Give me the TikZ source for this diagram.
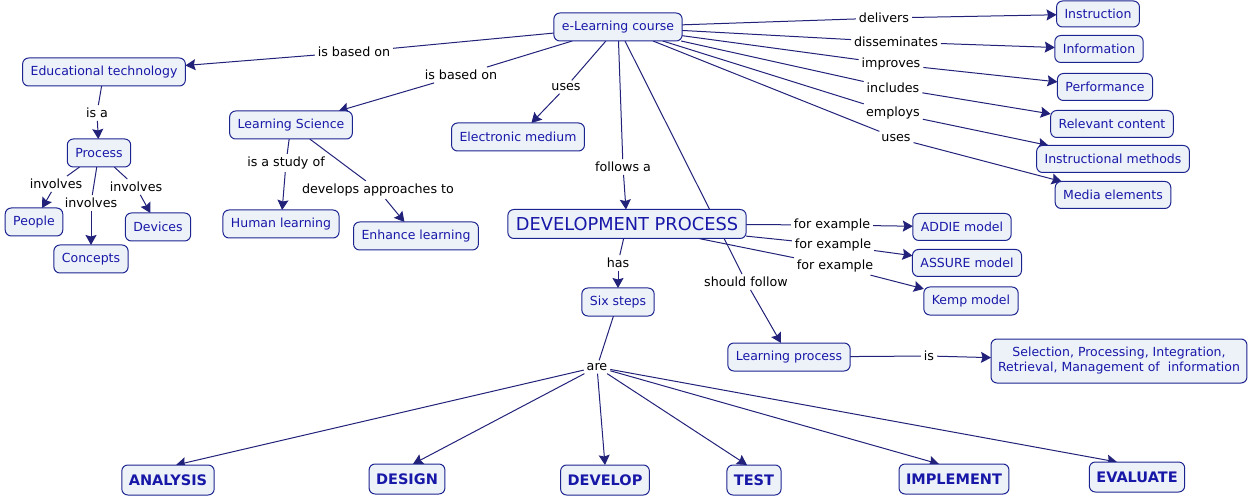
\documentclass[tikz,border=0pt]{standalone}
\usepackage{fontspec}
\setmainfont{DejaVu Sans}
\usetikzlibrary{arrows.meta}
\definecolor{nodefill}{HTML}{EDF2F9}
\definecolor{nodeborder}{HTML}{1C2490}
\definecolor{nodetext}{HTML}{1818A8}
\definecolor{linkcol}{HTML}{22227A}
\pgfdeclarelayer{bg}
\pgfsetlayers{bg,main}
\tikzset{
 concept/.style={draw=nodeborder, fill=nodefill, text=nodetext, rounded corners=6pt, line width=1pt, inner xsep=8pt, minimum height=28pt, font=\fontsize{12.5}{15}\selectfont, outer sep=0pt, align=center},
 bigconcept/.style={concept, font=\fontsize{17.8}{20}\selectfont, minimum height=29pt},
 stepconcept/.style={concept, font=\bfseries\fontsize{14.5}{17}\selectfont, minimum height=30pt, inner xsep=7pt},
 linklabel/.style={text=black, font=\fontsize{12.7}{14}\selectfont, inner sep=3pt, outer sep=0pt},
 link/.style={draw=linkcol, line width=1pt},
 arrowlink/.style={link, -{Stealth[length=10pt,width=11pt,inset=1.5pt]}}
}
\begin{document}
\begin{tikzpicture}[x=1pt,y=-1pt]
\useasboundingbox (0,0) rectangle (1251,497);
% concepts
\node[concept] (elc) at (618,27) {e-Learning course};
\node[concept] (edt) at (104,72) {Educational technology};
\node[concept] (ls) at (291,125) {Learning Science};
\node[concept] (em) at (518,137) {Electronic medium};
\node[concept] (proc) at (99,153) {Process};
\node[concept] (people) at (34,222) {People};
\node[concept] (concepts) at (91,259) {Concepts};
\node[concept] (devices) at (158,227) {Devices};
\node[concept] (hl) at (281,224) {Human learning};
\node[concept] (enh) at (416,236) {Enhance learning};
\node[concept, minimum height=26pt] (instr) at (1098,14) {Instruction};
\node[concept, minimum height=27pt] (info) at (1099,49) {Information};
\node[concept, minimum height=27pt] (perf) at (1105,87) {Performance};
\node[concept, minimum height=27pt] (rel) at (1112,124) {Relevant content};
\node[concept, minimum height=27pt] (imeth) at (1113,159) {Instructional methods};
\node[concept, minimum height=27pt] (media) at (1113,195) {Media elements};
\node[bigconcept] (dp) at (627,224) {DEVELOPMENT PROCESS};
\node[concept, minimum height=27pt] (addie) at (962,227) {ADDIE model};
\node[concept, minimum height=27pt] (assure) at (967,263) {ASSURE model};
\node[concept] (kemp) at (971,301) {Kemp model};
\node[concept] (six) at (618,302) {Six steps};
\node[concept] (lp) at (789,357) {Learning process};
\node[concept, minimum height=44pt, inner xsep=7pt] (sel) at (1119,361) {Selection, Processing, Integration,\\Retrieval, Management of~ information};
\node[stepconcept] (analysis) at (168,480) {ANALYSIS};
\node[stepconcept] (design) at (407,479) {DESIGN};
\node[stepconcept] (develop) at (605,480) {DEVELOP};
\node[stepconcept] (test) at (754,480) {TEST};
\node[stepconcept] (impl) at (954,479) {IMPLEMENT};
\node[stepconcept] (eval) at (1137,477) {EVALUATE};
% link labels
\node[linklabel] (l1) at (354,52) {is based on};
\node[linklabel] (l2) at (461,75) {is based on};
\node[linklabel] (l3) at (566,87) {uses};
\node[linklabel] (l4) at (623,167) {follows a};
\node[linklabel] (l5) at (884,18) {delivers};
\node[linklabel] (l6) at (896,42) {disseminates};
\node[linklabel] (l7) at (891,64) {improves};
\node[linklabel] (l8) at (893,88) {includes};
\node[linklabel] (l9) at (893,113) {employs};
\node[linklabel] (l10) at (896,138) {uses};
\node[linklabel] (l11) at (746,282) {should follow};
\node[linklabel] (l12) at (97,113) {is a};
\node[linklabel] (l13) at (56,184) {involves};
\node[linklabel] (l14) at (91,203) {involves};
\node[linklabel] (l15) at (136,187) {involves};
\node[linklabel] (l16) at (286,163) {is a study of};
\node[linklabel] (l17) at (378,190) {develops approaches to};
\node[linklabel] (l18) at (832,225) {for example};
\node[linklabel] (l19) at (833,245) {for example};
\node[linklabel] (l20) at (835,266) {for example};
\node[linklabel] (l21) at (618,263) {has};
\node[linklabel] (l22) at (929,356) {is};
\node[linklabel] (l23) at (597,367) {are};
% connectors
\begin{pgfonlayer}{bg}
\draw[link] (elc) -- (l1); \draw[arrowlink] (l1) -- (edt);
\draw[link] (elc) -- (l2); \draw[arrowlink] (l2) -- (ls);
\draw[link] (elc) -- (l3); \draw[arrowlink] (l3) -- (em);
\draw[link] (elc) -- (l4); \draw[arrowlink] (l4) -- (dp);
\draw[link] (elc) -- (l5); \draw[arrowlink] (l5) -- (instr);
\draw[link] (elc) -- (l6); \draw[arrowlink] (l6) -- (info);
\draw[link] (elc) -- (l7); \draw[arrowlink] (l7) -- (perf);
\draw[link] (elc) -- (l8); \draw[arrowlink] (l8) -- (rel);
\draw[link] (elc) -- (l9); \draw[arrowlink] (l9) -- (imeth);
\draw[link] (elc) -- (l10); \draw[arrowlink] (l10) -- (media);
\draw[link] (elc) -- (l11); \draw[arrowlink] (l11) -- (lp);
\draw[link] (edt) -- (l12); \draw[arrowlink] (l12) -- (proc);
\draw[link] (proc) -- (l13); \draw[arrowlink] (l13) -- (people);
\draw[link] (proc) -- (l14); \draw[arrowlink] (l14) -- (concepts);
\draw[link] (proc) -- (l15); \draw[arrowlink] (l15) -- (devices);
\draw[link] (ls) -- (l16); \draw[arrowlink] (l16) -- (hl);
\draw[link] (ls) -- (l17); \draw[arrowlink] (l17) -- (enh);
\draw[link] (dp) -- (l18); \draw[arrowlink] (l18) -- (addie);
\draw[link] (dp) -- (l19); \draw[arrowlink] (l19) -- (assure);
\draw[link] (dp) -- (l20); \draw[arrowlink] (l20) -- (kemp);
\draw[link] (dp) -- (l21); \draw[arrowlink] (l21) -- (six);
\draw[link] (lp) -- (l22); \draw[arrowlink] (l22) -- (sel);
\draw[link] (six) -- (l23);
\draw[arrowlink] (l23) -- ([xshift=8pt]analysis.north);
\draw[arrowlink] (l23) -- ([xshift=6pt]design.north);
\draw[arrowlink] (l23) -- (develop.north);
\draw[arrowlink] (l23) -- ([xshift=-7pt]test.north);
\draw[arrowlink] (l23) -- ([xshift=-15pt]impl.north);
\draw[arrowlink] (l23) -- ([xshift=-20pt]eval.north);
\end{pgfonlayer}
\end{tikzpicture}
\end{document}
